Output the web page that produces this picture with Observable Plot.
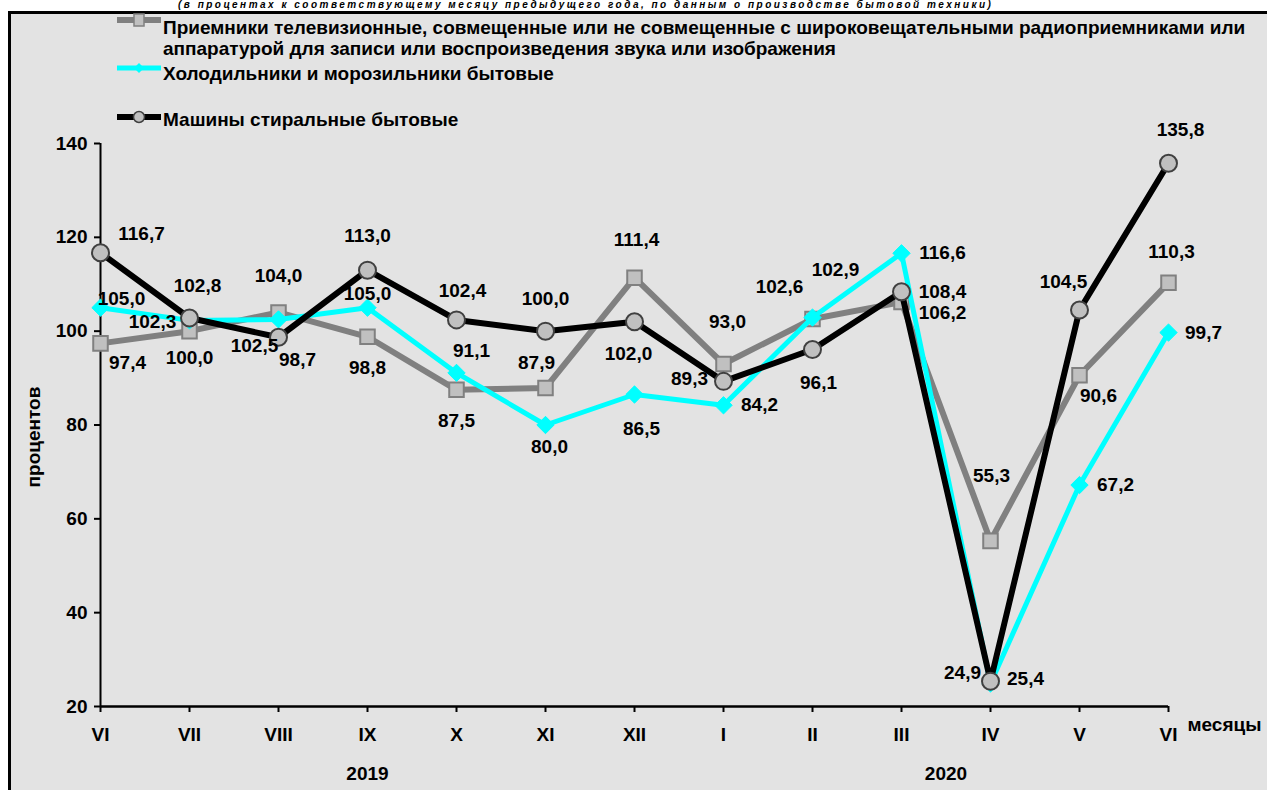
<!DOCTYPE html>
<html>
<head>
<meta charset="utf-8">
<script src="https://cdn.jsdelivr.net/npm/d3@7"></script>
<script src="https://cdn.jsdelivr.net/npm/@observablehq/plot@0.6"></script>
<style>
  html, body { margin: 0; padding: 0; background: #fff; }
  body { font-family: "Liberation Sans", Arial, sans-serif; font-weight: bold; color: #000; }
  #wrap { position: relative; width: 1267px; height: 790px; overflow: hidden; background: #fff; }
  #panel { position: absolute; left: 8px; top: 11px; width: 1300px; height: 820px; background: #e3e3e3; border: 3px solid #000; box-sizing: border-box; }
  #title { position: absolute; left: 178px; top: 0px; white-space: nowrap; font-style: italic; font-size: 10px; line-height: 10px; letter-spacing: 2.5px; }
  .leg { position: absolute; font-size: 19px; line-height: 21px; }
  .sym { position: absolute; }
  #chart { position: absolute; left: 0; top: 0; }
</style>
</head>
<body>
<div id="wrap">
  <div id="title">(в процентах к соответствующему месяцу предыдущего года, по данным о производстве бытовой техники)</div>
  <div id="panel"></div>
  <div id="chart"></div>
  <div id="legend"></div>
</div>
<script>
// ---- data ----
const months = ["VI", "VII", "VIII", "IX", "X", "XI", "XII", "I", "II", "III", "IV", "V", "VI"];
const seriesNames = [
  "Приемники телевизионные, совмещенные или не совмещенные с широковещательными радиоприемниками или аппаратурой для записи или воспроизведения звука или изображения",
  "Холодильники и морозильники бытовые",
  "Машины стиральные бытовые"
];
const tvValues     = [97.4, 100.0, 104.0, 98.8, 87.5, 87.9, 111.4, 93.0, 102.6, 106.2, 55.3, 90.6, 110.3];
const fridgeValues = [105.0, 102.3, 102.5, 105.0, 91.1, 80.0, 86.5, 84.2, 102.9, 116.6, 24.9, 67.2, 99.7];
const washerValues = [116.7, 102.8, 98.7, 113.0, 102.4, 100.0, 102.0, 89.3, 96.1, 108.4, 25.4, 104.5, 135.8];
const yTicks = [20, 40, 60, 80, 100, 120, 140];
const years = ["2019", "2020"];
const yearCenterIndex = [3, 9.5];
const yLabel = "процентов";
const xLabel = "месяцы";

// ---- label offsets (style, px) ----
const tvOffsets     = [[27,20],[0,27],[0,-36],[0,31],[0,31],[-9,-25],[2,-38],[4,-42],[-33,-32],[41,11],[1,-65],[19,21],[3,-31]];
const fridgeOffsets = [[21,-9],[-37,2],[-24,26],[0,-14],[15,-22],[4,22],[7,34],[36,0],[23,-48],[41,0],[-28,-11],[36,0],[35,0]];
const washerOffsets = [[41,-19],[8,-32],[19,23],[0,-34],[6,-29],[0,-32],[-6,32],[-34,-2],[6,33],[41,0],[35,-2],[-16,-28],[12,-33]];

const FS = 19;
const fmt = v => v.toFixed(1).replace(".", ",");
const toRows = vals => vals.map((v, i) => ({i, v}));
const tv = toRows(tvValues), fridge = toRows(fridgeValues), washer = toRows(washerValues);

function labels(rows, offs) {
  return rows.map((d, k) => Plot.text([d], {
    x: "i", y: "v", text: r => fmt(r.v),
    dx: offs[k][0], dy: offs[k][1],
    fontSize: FS, fontWeight: "bold", fill: "#000"
  }));
}

const chart = Plot.plot({
  width: 1267,
  height: 790,
  marginLeft: 100,
  marginRight: 99,
  marginTop: 143,
  marginBottom: 84,
  style: { background: "transparent", fontFamily: "Liberation Sans, Arial, sans-serif", fontWeight: "bold", fontSize: FS + "px", overflow: "visible" },
  x: { type: "linear", domain: [0, 12] },
  y: { type: "linear", domain: [20, 140] },
  marks: [
    Plot.axisY({ ticks: yTicks, tickSize: 6, tickPadding: 7, tickFormat: d => d, label: null, fontSize: FS, fontWeight: "bold", stroke: "#000", strokeWidth: 2 }),
    Plot.axisX({ ticks: d3.range(months.length), tickSize: 6, tickPadding: 15, tickFormat: i => months[i], label: null, fontSize: FS, fontWeight: "bold", stroke: "#000", strokeWidth: 2 }),
    Plot.ruleX([0], { y1: 20, y2: 140, stroke: "#000", strokeWidth: 2 }),
    Plot.ruleY([20], { x1: 0, x2: 12, stroke: "#000", strokeWidth: 2.5 }),
    Plot.text(years, { x: (d, k) => yearCenterIndex[k], y: 20, text: d => d, dy: 67, fontSize: FS, fontWeight: "bold" }),
    Plot.text([xLabel], { x: 12, y: 20, text: d => d, dx: 19, dy: 18, textAnchor: "start", fontSize: FS, fontWeight: "bold" }),
    Plot.text([yLabel], { x: 0, y: 80, text: d => d, dx: -67, dy: 12, rotate: -90, fontSize: FS, fontWeight: "bold" }),
    // series
    Plot.line(tv, { x: "i", y: "v", stroke: "#808080", strokeWidth: 6, strokeLinejoin: "miter" }),
    Plot.dot(tv, { x: "i", y: "v", symbol: "square", r: 8.2, fill: "#c0c0c0", stroke: "#808080", strokeWidth: 2 }),
    Plot.line(fridge, { x: "i", y: "v", stroke: "#00ffff", strokeWidth: 5, strokeLinejoin: "miter" }),
    Plot.dot(fridge, { x: "i", y: "v", symbol: "diamond2", r: 7.8, fill: "#00ffff", stroke: "#00ffff", strokeWidth: 1 }),
    Plot.line(washer, { x: "i", y: "v", stroke: "#000", strokeWidth: 6, strokeLinejoin: "miter" }),
    Plot.dot(washer, { x: "i", y: "v", symbol: "circle", r: 8.5, fill: "#c0c0c0", stroke: "#404040", strokeWidth: 2 }),
    ...labels(tv, tvOffsets),
    ...labels(fridge, fridgeOffsets),
    ...labels(washer, washerOffsets)
  ]
});
document.getElementById("chart").appendChild(chart);

// ---- legend ----
const legend = document.getElementById("legend");
const legendItems = [
  { name: seriesNames[0], stroke: "#808080", sw: 6, sym: "square", fill: "#c0c0c0", sstroke: "#808080", symY: 20, textTop: 16.5, width: 1100 },
  { name: seriesNames[1], stroke: "#00ffff", sw: 5, sym: "diamond", fill: "#00ffff", sstroke: "#00ffff", symY: 68, textTop: 62.5, width: 1100 },
  { name: seriesNames[2], stroke: "#000000", sw: 6, sym: "circle", fill: "#c0c0c0", sstroke: "#404040", symY: 117, textTop: 108.5, width: 1100 }
];
legendItems.forEach(it => {
  const svg = d3.create("svg").attr("class", "sym").attr("width", 46).attr("height", 16)
    .style("left", "116px").style("top", (it.symY - 8) + "px");
  svg.append("line").attr("x1", 1).attr("x2", 45).attr("y1", 8).attr("y2", 8).attr("stroke", it.stroke).attr("stroke-width", it.sw);
  if (it.sym === "square") svg.append("rect").attr("x", 18).attr("y", 2).attr("width", 10).attr("height", 12).attr("fill", it.fill).attr("stroke", it.sstroke).attr("stroke-width", 1.5);
  if (it.sym === "diamond") svg.append("path").attr("d", "M23,3 L28,8 L23,13 L18,8 Z").attr("fill", it.fill);
  if (it.sym === "circle") svg.append("circle").attr("cx", 23).attr("cy", 8).attr("r", 5.5).attr("fill", it.fill).attr("stroke", it.sstroke).attr("stroke-width", 1.5);
  legend.appendChild(svg.node());
  const t = document.createElement("div");
  t.className = "leg";
  t.style.left = "163px";
  t.style.top = it.textTop + "px";
  t.style.width = it.width + "px";
  t.textContent = it.name;
  legend.appendChild(t);
});
</script>
</body>
</html>
